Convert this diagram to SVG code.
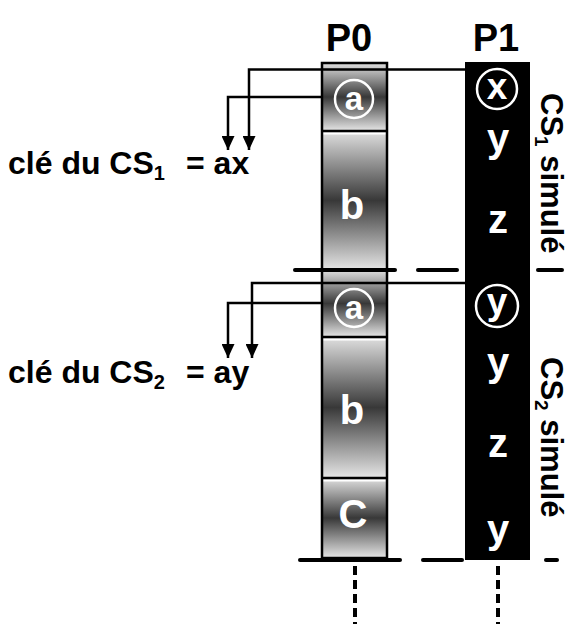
<svg xmlns="http://www.w3.org/2000/svg" width="573" height="624" viewBox="0 0 573 624">
<style>
text{font-family:"Liberation Sans",Arial,sans-serif;font-weight:bold}
.lbl{font-size:38px;fill:#000;text-anchor:middle}
.cell{font-size:40px;fill:#fff;text-anchor:middle}
.circ{fill:none;stroke:#fff;stroke-width:2.5}
.key{font-size:32px;fill:#000}
.side{font-size:31px;fill:#000}
.conn{fill:none;stroke:#000;stroke-width:2.5}
.dash{stroke:#000;stroke-width:4;stroke-linecap:round}
.dot{stroke:#000;stroke-width:4;stroke-dasharray:9 5;fill:none}
.div{stroke:#000;stroke-width:2.5}
.gap{stroke:#fff;stroke-width:2}
</style>
<defs>
<linearGradient id="g" x1="0" y1="0" x2="0" y2="1">
<stop offset="0" stop-color="#e0e0e0"/>
<stop offset="0.5" stop-color="#383838"/>
<stop offset="1" stop-color="#e6e6e6"/>
</linearGradient>
<marker id="ah" viewBox="0 0 14 13" refX="14" refY="6.5" markerWidth="14" markerHeight="13" orient="auto" markerUnits="userSpaceOnUse">
<path d="M0,0 L14,6.5 L0,13 Z" fill="#000"/>
</marker>
</defs>
<rect width="573" height="624" fill="#fff"/>

<g id="title-p0"><text class="lbl" x="349" y="51">P0</text></g>
<g id="title-p1"><text class="lbl" x="496" y="51">P1</text></g>

<g id="p0">
<rect x="322" y="63" width="65" height="68" fill="url(#g)"/>
<rect x="322" y="131" width="65" height="139" fill="url(#g)"/>
<rect x="322" y="270" width="65" height="67" fill="url(#g)"/>
<rect x="322" y="337" width="65" height="141" fill="url(#g)"/>
<rect x="322" y="478" width="65" height="80" fill="url(#g)"/>
<line class="gap" x1="323" y1="133.5" x2="386" y2="133.5"/>
<line class="gap" x1="323" y1="339.5" x2="386" y2="339.5"/>
<line class="gap" x1="323" y1="480.5" x2="386" y2="480.5"/>
<line class="div" x1="322" y1="131" x2="387" y2="131"/>
<line class="div" x1="322" y1="337" x2="387" y2="337"/>
<line class="div" x1="322" y1="478" x2="387" y2="478"/>
<rect x="322" y="63" width="65" height="495" fill="none" stroke="#000" stroke-width="2.5"/>
<circle class="circ" cx="354" cy="99" r="19"/>
<text class="cell" x="354" y="110" style="font-size:33px">a</text>
<text class="cell" x="352" y="219">b</text>
<circle class="circ" cx="354" cy="308" r="19"/>
<text class="cell" x="354" y="319" style="font-size:33px">a</text>
<text class="cell" x="352" y="424">b</text>
<text class="cell" x="353" y="528">C</text>
</g>

<g id="p1">
<rect x="465" y="62" width="65" height="498" fill="#000"/>
<circle class="circ" cx="497" cy="89" r="20"/>
<text class="cell" x="497" y="99" style="font-size:37px">x</text>
<text class="cell" x="498" y="152">y</text>
<text class="cell" x="498" y="233">z</text>
<circle class="circ" cx="497" cy="306" r="21"/>
<text class="cell" x="497" y="314" style="font-size:37px">y</text>
<text class="cell" x="498" y="376">y</text>
<text class="cell" x="498" y="457">z</text>
<text class="cell" x="498" y="543">y</text>
</g>

<g id="connectors">
<path class="conn" d="M465,69.5 H249 V150" marker-end="url(#ah)"/>
<path class="conn" d="M322,97 H228 V150" marker-end="url(#ah)"/>
<path class="conn" d="M465,283 H252 V358" marker-end="url(#ah)"/>
<path class="conn" d="M322,303 H228 V358" marker-end="url(#ah)"/>
</g>

<g id="separators">
<line class="dash" x1="295" y1="270" x2="395" y2="270"/>
<line class="dash" x1="418" y1="270" x2="457" y2="270"/>
<line class="dash" x1="538" y1="270" x2="562" y2="270"/>
<line class="dash" x1="300" y1="560" x2="400" y2="560"/>
<line class="dash" x1="423" y1="560" x2="462" y2="560"/>
<line class="dash" x1="546" y1="560" x2="557" y2="560"/>
<line class="dot" x1="355" y1="566" x2="355" y2="624"/>
<line class="dot" x1="498" y1="566" x2="498" y2="624"/>
</g>

<g id="key1"><text class="key" x="8" y="174">clé du CS<tspan dy="6" style="font-size:20px">1</tspan><tspan x="186" dy="-6">= ax</tspan></text></g>
<g id="key2"><text class="key" x="8" y="383">clé du CS<tspan dy="6" style="font-size:20px">2</tspan><tspan x="186" dy="-6">= ay</tspan></text></g>

<g id="cs1"><text class="side" transform="translate(541,93) rotate(90)">CS<tspan dy="6" style="font-size:19px">1</tspan><tspan dy="-6"> simulé</tspan></text></g>
<g id="cs2"><text class="side" transform="translate(541,357) rotate(90)">CS<tspan dy="6" style="font-size:19px">2</tspan><tspan dy="-6"> simulé</tspan></text></g>
</svg>
